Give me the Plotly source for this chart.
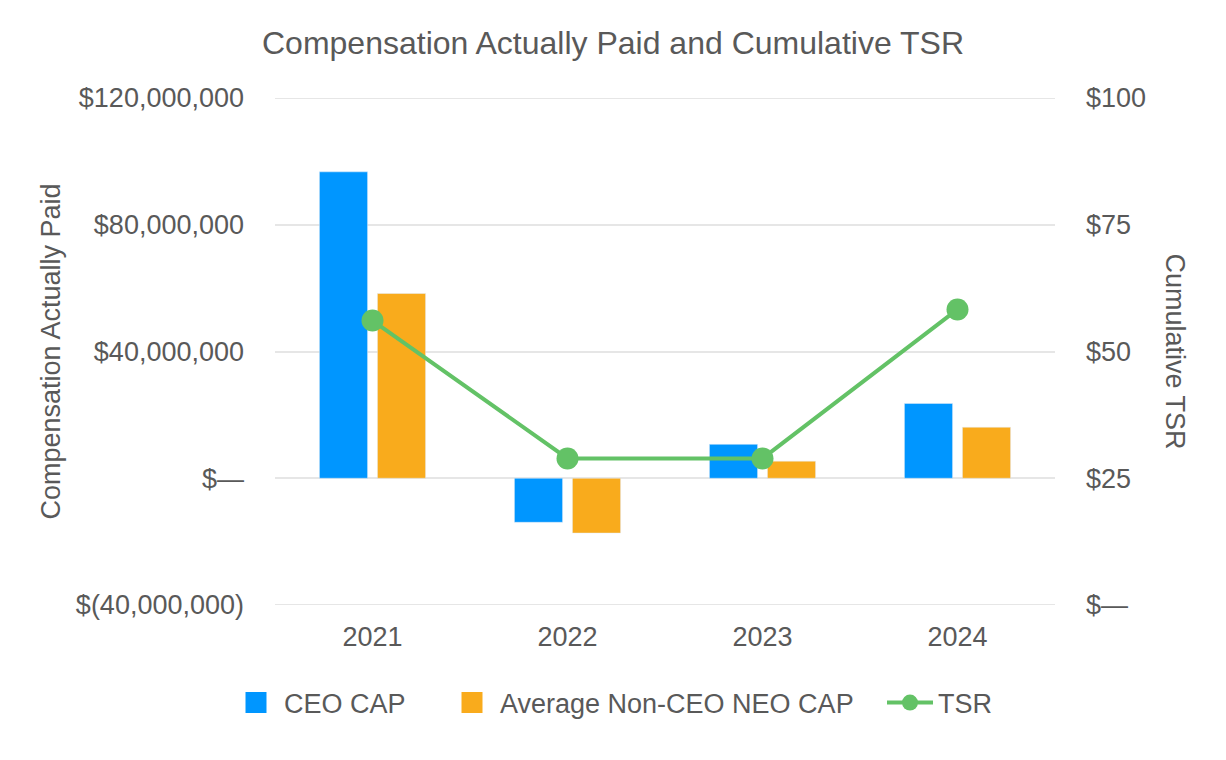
import plotly.graph_objects as go

years = ["2021", "2022", "2023", "2024"]
ceo_cap = [96700000, -13900000, 10700000, 23600000]
neo_cap = [58300000, -17300000, 5400000, 16100000]
tsr = [56.1, 28.9, 28.9, 58.3]

left_ticks = [-40000000, 0, 40000000, 80000000, 120000000]
left_labels = ["$(40,000,000)", "$—", "$40,000,000", "$80,000,000", "$120,000,000"]
right_ticks = [0, 25, 50, 75, 100]
right_labels = ["$—", "$25", "$50", "$75", "$100"]

font_color = "#595959"
blue = "#0096FF"
orange = "#F9AB1C"
green = "#63C266"

fig = go.Figure()
fig.add_trace(go.Bar(x=years, y=ceo_cap, name="CEO CAP", marker_color=blue, showlegend=False))
fig.add_trace(go.Bar(x=years, y=neo_cap, name="Average Non-CEO NEO CAP", marker_color=orange, showlegend=False))
fig.add_trace(go.Scatter(x=years, y=tsr, name="TSR", yaxis="y2", mode="lines+markers",
                         line=dict(color=green, width=4),
                         marker=dict(color=green, size=22), showlegend=False))
# legend entries (one legend each so their spacing can follow the reference)
fig.add_trace(go.Scatter(x=[None], y=[None], name="CEO CAP", mode="markers", legend="legend",
                         marker=dict(symbol="square", size=16, color=blue, line=dict(color=blue, width=10))))
fig.add_trace(go.Scatter(x=[None], y=[None], name="Average Non-CEO NEO CAP", mode="markers", legend="legend2",
                         marker=dict(symbol="square", size=16, color=orange, line=dict(color=orange, width=10))))
fig.add_trace(go.Scatter(x=[None], y=[None], name="TSR", mode="lines+markers", yaxis="y2", legend="legend3",
                         line=dict(color=green, width=4), marker=dict(color=green, size=20)))

# gridlines at the range edges
for v in (left_ticks[0], left_ticks[-1]):
    fig.add_shape(type="line", xref="paper", yref="y", x0=0, x1=1, y0=v, y1=v,
                  line=dict(color="#E6E6E6", width=2), layer="below")

W, H = 1210, 744
leg_common = dict(orientation="h", xref="container", xanchor="left", yref="container",
                  y=(H - 695) / H, yanchor="middle", font=dict(size=27), itemwidth=46,
                  bgcolor="rgba(0,0,0,0)")

fig.update_layout(
    width=W, height=H,
    paper_bgcolor="white", plot_bgcolor="white",
    font=dict(family="Liberation Sans, Arial, sans-serif", color=font_color, size=27),
    title=dict(text="Compensation Actually Paid and Cumulative TSR", x=0.5, xanchor="center",
               y=(H - 35) / H, yanchor="middle", font=dict(size=32, color=font_color)),
    margin=dict(l=267, r=163, t=90, b=147),
    barmode="group", bargap=0.405, bargroupgap=0.17,
    xaxis=dict(showgrid=False, showline=False, ticklabelstandoff=13, tickfont=dict(size=27)),
    yaxis=dict(range=[-40000000, 120000000], tickvals=left_ticks, ticktext=left_labels,
               showgrid=True, gridcolor="#E6E6E6", gridwidth=2, zeroline=False,
               ticklabelstandoff=30, tickfont=dict(size=27),
               title=dict(text="Compensation Actually Paid", font=dict(size=27), standoff=7)),
    yaxis2=dict(range=[0, 100], tickvals=right_ticks, ticktext=right_labels, overlaying="y",
                side="right", showgrid=False, zeroline=False, ticklabelstandoff=30,
                tickfont=dict(size=27)),
    legend=dict(x=220 / W, **leg_common),
    legend2=dict(x=436 / W, **leg_common),
    legend3=dict(x=874 / W, **leg_common),
    annotations=[dict(text="Cumulative TSR", textangle=90, xref="paper", yref="paper",
                      x=1.0, xshift=137, y=0.5, showarrow=False, font=dict(size=27, color=font_color))],
)

fig.write_html("out.html")
